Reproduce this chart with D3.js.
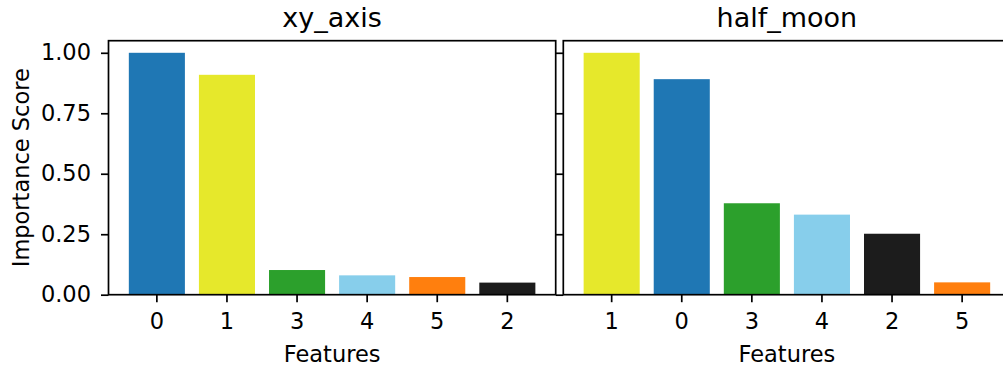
<!DOCTYPE html>
<html>
<head>
<meta charset="utf-8">
<script src="https://cdn.jsdelivr.net/npm/d3@7/dist/d3.min.js"></script>
<style>
  html, body { margin: 0; padding: 0; background: #fff; }
  svg { display: block; }
  text { font-family: "DejaVu Sans", sans-serif; fill: #000; }
</style>
</head>
<body>
<svg id="chart" width="1003" height="369"></svg>
<script>
// Feature importance per dataset, sorted by score
const xyFeatures = ["0", "1", "3", "4", "5", "2"];
const xyScores = [1.0, 0.909, 0.102, 0.080, 0.073, 0.050];

const moonFeatures = ["1", "0", "3", "4", "2", "5"];
const moonScores = [1.0, 0.891, 0.378, 0.331, 0.252, 0.051];

const panelTitles = ["xy_axis", "half_moon"];
const yTicks = [0, 0.25, 0.5, 0.75, 1.0];

// One colour per feature, shared by both panels
const featureColor = {
  "0": "#1f77b4",
  "1": "#e6e82b",
  "2": "#1c1c1c",
  "3": "#2ca02c",
  "4": "#87ceeb",
  "5": "#ff7f0e"
};

const svg = d3.select("#chart");

const plotTop = 40.7, plotBottom = 294.7;
const panelW = 447.2;
const panels = [
  { left: 108.5, title: panelTitles[0], features: xyFeatures, scores: xyScores, showYLabels: true },
  { left: 563.3, title: panelTitles[1], features: moonFeatures, scores: moonScores, showYLabels: false }
];

const y = d3.scaleLinear().domain([0, 1.05]).range([plotBottom, plotTop]);

const lw = 1.7;       // spine / tick line width
const tickLen = 7.5;
const tickFont = 22.5;
const titleFont = 27;

panels.forEach(p => {
  const x = d3.scaleBand()
    .domain(p.features)
    .range([p.left, p.left + panelW])
    .paddingInner(0.2)
    .paddingOuter(0.29);

  const g = svg.append("g");

  // bars
  g.selectAll("rect.bar")
    .data(p.features.map((f, i) => ({ f, v: p.scores[i] })))
    .join("rect")
    .attr("class", "bar")
    .attr("x", d => x(d.f))
    .attr("width", x.bandwidth())
    .attr("y", d => y(d.v))
    .attr("height", d => y(0) - y(d.v))
    .attr("fill", d => featureColor[d.f]);

  // y axis
  const yAxis = d3.axisLeft(y)
    .tickValues(yTicks)
    .tickSize(tickLen)
    .tickPadding(10)
    .tickFormat(p.showYLabels ? d3.format(".2f") : () => "");
  const ya = g.append("g").attr("transform", `translate(${p.left},0)`).call(yAxis);
  ya.select(".domain").remove();
  ya.selectAll(".tick line").attr("stroke", "#000").attr("stroke-width", lw);
  ya.selectAll(".tick text")
    .attr("font-size", tickFont)
    .attr("font-family", "DejaVu Sans")
    .attr("fill", "#000");

  // x axis
  const xAxis = d3.axisBottom(x).tickSize(tickLen).tickPadding(11);
  const xa = g.append("g").attr("transform", `translate(0,${plotBottom})`).call(xAxis);
  xa.select(".domain").remove();
  xa.selectAll(".tick line").attr("stroke", "#000").attr("stroke-width", lw);
  xa.selectAll(".tick text")
    .attr("font-size", tickFont)
    .attr("font-family", "DejaVu Sans")
    .attr("fill", "#000");

  // frame
  g.append("rect")
    .attr("x", p.left)
    .attr("y", plotTop)
    .attr("width", panelW)
    .attr("height", plotBottom - plotTop)
    .attr("fill", "none")
    .attr("stroke", "#000")
    .attr("stroke-width", lw);

  // title
  g.append("text")
    .attr("x", p.left + panelW / 2)
    .attr("y", 26.7)
    .attr("text-anchor", "middle")
    .attr("font-size", titleFont)
    .text(p.title);

  // x label
  g.append("text")
    .attr("x", p.left + panelW / 2)
    .attr("y", 361.5)
    .attr("text-anchor", "middle")
    .attr("font-size", tickFont)
    .text("Features");
});

// y label
svg.append("text")
  .attr("transform", `translate(28.5,${(plotTop + plotBottom) / 2}) rotate(-90)`)
  .attr("text-anchor", "middle")
  .attr("font-size", tickFont)
  .text("Importance Score");
</script>
</body>
</html>
